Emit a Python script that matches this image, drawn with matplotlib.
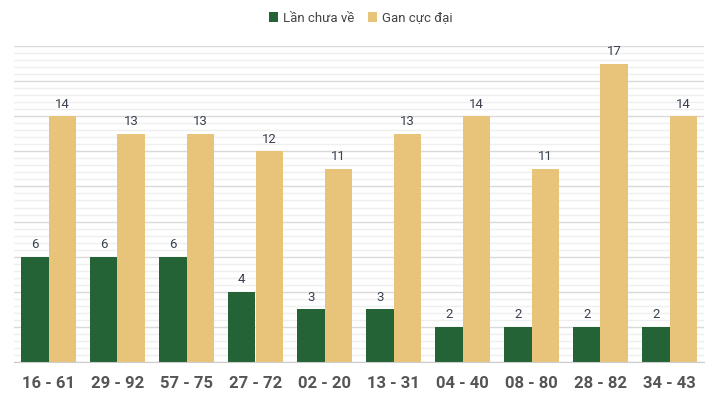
import matplotlib
matplotlib.use("Agg")
import matplotlib.pyplot as plt
import numpy as np
from matplotlib.ticker import MultipleLocator

categories = ["16 - 61", "29 - 92", "57 - 75", "27 - 72", "02 - 20", "13 - 31", "04 - 40", "08 - 80", "28 - 82", "34 - 43"]
lan_chua_ve = [6, 6, 6, 4, 3, 3, 2, 2, 2, 2]
gan_cuc_dai = [14, 13, 13, 12, 11, 13, 14, 11, 17, 14]

plt.rcParams['font.family'] = ['Roboto', 'DejaVu Sans']

fig = plt.figure(figsize=(7.18, 4.00), dpi=100)
ax = fig.add_axes([14/718, 1-362/400, 690/718, (362-46)/400])

x = np.arange(len(categories))
w = 0.4
green = "#246335"
gold = "#E8C47A"
b1 = ax.bar(x - w/2, lan_chua_ve, w, color=green, label="Lần chưa về", zorder=3)
b2 = ax.bar(x + w/2, gan_cuc_dai, w, color=gold, label="Gan cực đại", zorder=3)

for rects, vals in ((b1, lan_chua_ve), (b2, gan_cuc_dai)):
    for r, v in zip(rects, vals):
        ax.annotate(str(v), (r.get_x() + r.get_width()/2, v), xytext=(0, 4),
                    textcoords="offset points", ha="center", va="bottom",
                    fontsize=9.5, color="#3a4250")

ax.set_xlim(-0.5, len(categories) - 0.5)
ax.set_ylim(0, 18)
ax.yaxis.set_major_locator(MultipleLocator(2))
ax.yaxis.set_minor_locator(MultipleLocator(0.4))
ax.grid(axis="y", which="major", color="#d9d9d9", linewidth=1, zorder=0)
ax.grid(axis="y", which="minor", color="#efefef", linewidth=1, zorder=0)
ax.tick_params(axis="y", which="both", left=False, labelleft=False)
ax.tick_params(axis="x", length=0, pad=10)
ax.set_xticks(x)
ax.set_xticklabels(categories, fontsize=12, fontweight="bold", color="#555555")
for s in ["top", "right", "left"]:
    ax.spines[s].set_visible(False)
ax.spines["bottom"].set_color("#cccccc")
ax.spines["bottom"].set_zorder(4)

fig.legend(handles=[b1, b2], loc="center", bbox_to_anchor=(361/718, 1-18/400), ncol=2,
           frameon=False, fontsize=9.5, handlelength=0.7, handleheight=0.7,
           handletextpad=0.4, columnspacing=1.0, labelcolor="#444444")

fig.savefig("out.png", dpi=100)
